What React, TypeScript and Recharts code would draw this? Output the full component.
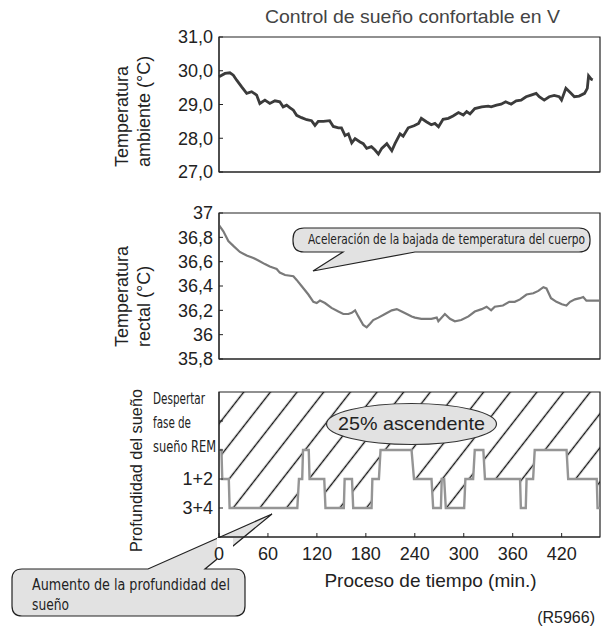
import { LineChart, ComposedChart, Line, Area, XAxis, YAxis, ReferenceArea } from 'recharts'

// ambient temperature (°C) over time (min)
const ambientTime = [
  0, 6.6, 12, 15.8, 19.5, 25, 30.5, 36, 41.5, 45, 50.6, 56, 61.7, 67, 70.7, 74.6, 78, 82, 85.6, 91,
  96.7, 102, 105.8, 109.4, 115, 122, 126, 131.6, 135, 139, 142.6, 146.3, 150, 155.5, 159, 162.8, 168,
  172, 175.7, 179.4, 185, 190.5, 194, 199.6, 203, 208.6, 215, 220, 223, 228.6, 234, 238, 242, 247,
  252.8, 258, 264, 269.3, 273, 276.7, 282, 289.6, 296.8, 300, 306, 311, 316, 322, 327.6, 333, 338.5,
  344, 349.6, 353, 358.5, 364, 369.5, 375, 377.6, 382.4, 388, 391.7, 397, 403, 406, 407.4, 410.3, 412,
]
const ambientTemp = [
  29.82, 29.92, 29.94, 29.87, 29.72, 29.52, 29.33, 29.38, 29.28, 29.03, 29.13, 29.03, 29.11, 29.08,
  28.93, 28.98, 28.91, 28.83, 28.68, 28.61, 28.55, 28.52, 28.38, 28.5, 28.5, 28.52, 28.35, 28.31,
  28.31, 28.08, 28.13, 27.86, 27.99, 27.89, 27.84, 27.7, 27.75, 27.65, 27.53, 27.7, 27.84, 27.63,
  27.84, 28.13, 28.06, 28.31, 28.37, 28.44, 28.59, 28.49, 28.4, 28.44, 28.34, 28.56, 28.59, 28.66,
  28.76, 28.69, 28.79, 28.72, 28.88, 28.93, 28.95, 28.93, 28.98, 29.01, 29.08, 29.01, 29.11, 29.13,
  29.23, 29.28, 29.33, 29.23, 29.13, 29.23, 29.27, 29.23, 29.13, 29.48, 29.33, 29.23, 29.25, 29.33,
  29.48, 29.85, 29.75, 29.73,
]
const ambientTicks = [27, 28, 29, 30, 31]
const ambientTickLabels = ['27,0', '28,0', '29,0', '30,0', '31,0']

// rectal temperature (°C) over time (min)
const rectalTime = [
  0, 4.8, 10.3, 15.8, 23, 30.5, 37.9, 43.4, 50.6, 56, 59.9, 63.6, 67, 72.8, 82, 85.6, 91, 98.5, 104,
  107.7, 111.3, 116.8, 124, 131.6, 137, 142.6, 146.3, 150, 153.6, 159, 162.8, 166.5, 170, 175.7, 183,
  190.5, 196, 201.4, 207, 212.4, 216, 223, 228.6, 234, 240, 241.8, 249, 254.6, 260, 267, 275, 282,
  289.6, 295, 300, 304, 313, 320, 326, 331.8, 339, 346.5, 352, 357.6, 361, 366, 372, 378, 383, 387,
  392.4, 397.8, 401.5, 405, 420,
]
const rectalTemp = [
  36.9, 36.85, 36.77, 36.73, 36.68, 36.65, 36.63, 36.61, 36.58, 36.56, 36.55, 36.54, 36.51, 36.49,
  36.48, 36.45, 36.4, 36.33, 36.27, 36.26, 36.28, 36.26, 36.22, 36.19, 36.17, 36.17, 36.18, 36.2,
  36.15, 36.08, 36.06, 36.09, 36.12, 36.14, 36.17, 36.2, 36.21, 36.19, 36.17, 36.15, 36.14, 36.13,
  36.13, 36.13, 36.14, 36.11, 36.17, 36.13, 36.11, 36.12, 36.15, 36.19, 36.21, 36.23, 36.2, 36.23,
  36.24, 36.27, 36.27, 36.29, 36.33, 36.34, 36.36, 36.39, 36.38, 36.3, 36.27, 36.25, 36.24, 36.27,
  36.29, 36.3, 36.31, 36.28, 36.28,
]
const rectalTicks = [35.8, 36, 36.2, 36.4, 36.6, 36.8, 37]
const rectalTickLabels = ['35,8', '36', '36,2', '36,4', '36,6', '36,8', '37']

// sleep depth: 1 = 3+4, 2 = 1+2, 3 = REM
const sleepTime = [
  0, 3, 4, 12, 13, 96, 98, 102, 103, 110, 111, 129, 130.5, 153, 154, 163, 164.5, 187, 188, 196, 198,
  236, 239, 260.5, 262.5, 272, 273, 276, 278, 300.5, 302, 311.5, 313.5, 324, 326, 369, 370, 376, 377,
  385, 387, 426, 428, 463, 464, 467,
]
const sleepStage = [
  3, 3, 2, 2, 1, 1, 2, 2, 3, 3, 2, 2, 1, 1, 2, 2, 1, 1, 2, 2, 3, 3, 2, 2, 1, 1, 2, 2, 1, 1, 2, 2, 3,
  3, 2, 2, 1, 1, 2, 2, 3, 3, 2, 2, 1, 1,
]
const sleepTicks = [1, 2, 3, 4]
const sleepTickLabels = [['3+4'], ['1+2'], ['Despertar', 'fase de', 'sueño REM'], []]
const sleepTop = 5
const sleepTimeMax = 467

const timeTicks = [0, 60, 120, 180, 240, 300, 360, 420]

const ambientData = ambientTime.map((t, i) => ({ t, temp: ambientTemp[i] }))
const rectalData = rectalTime.map((t, i) => ({ t, temp: rectalTemp[i] }))
const sleepData = sleepTime.map((t, i) => ({ t, stage: sleepStage[i], band: [sleepStage[i], sleepTop] }))

const FONT = '"Liberation Sans", Arial, Helvetica, sans-serif'
const NARROW = '"Liberation Sans Narrow", "Arial Narrow", "DejaVu Sans Condensed", "Liberation Sans", sans-serif'
const INK = '#222'
const tickText = { fontSize: 18, fill: INK, fontFamily: FONT }
const narrowWidths: Record<string, number> = { Despertar: 52, 'fase de': 38, 'sueño REM': 63 }

function SleepTick({ x, y, payload }: any) {
  const lines = sleepTickLabels[sleepTicks.indexOf(payload.value)] || []
  if (lines.length === 1) {
    return (
      <text x={x} y={y} dy="0.355em" textAnchor="end" {...tickText}>
        {lines[0]}
      </text>
    )
  }
  return (
    <g>
      {lines.map((l, i) => (
        <text
          key={l}
          x={x - 60}
          y={y + 2 - (lines.length - 1 - i) * 24}
          fontSize={15}
          fill={INK}
          fontFamily={NARROW}
          textLength={narrowWidths[l]}
          lengthAdjust="spacingAndGlyphs"
        >
          {l}
        </text>
      ))}
    </g>
  )
}

function TimeTick({ x, y, payload }: any) {
  return (
    <g>
      {payload.value === 0 && <rect x={x - 2} y={y - 9} width={16} height={25} fill="#fff" />}
      <text x={x} y={y} dy="0.71em" textAnchor="middle" {...tickText}>
        {payload.value}
      </text>
    </g>
  )
}

function calloutPath(x0: number, y0: number, x1: number, y1: number, r: number, tail: string) {
  return `M${x0 + r},${y0} ${tail} H${x1 - r} Q${x1},${y0} ${x1},${y0 + r} V${y1 - r} Q${x1},${y1} ${x1 - r},${y1} H${x0 + r} Q${x0},${y1} ${x0},${y1 - r} V${y0 + r} Q${x0},${y0} ${x0 + r},${y0} Z`
}

function calloutPathBottomTail(x0: number, y0: number, x1: number, y1: number, r: number, tail: string) {
  return `M${x0 + r},${y0} H${x1 - r} Q${x1},${y0} ${x1},${y0 + r} V${y1 - r} Q${x1},${y1} ${x1 - r},${y1} ${tail} H${x0 + r} Q${x0},${y1} ${x0},${y1 - r} V${y0 + r} Q${x0},${y0} ${x0 + r},${y0} Z`
}

export default function App() {
  const layer = { position: 'absolute' as const, left: 0, top: 0 }
  return (
    <div style={{ position: 'absolute', left: 0, top: 0, width: 612, height: 627, background: '#fff', fontFamily: FONT }}>
      {/* callout that sits under the sleep chart */}
      <svg width={612} height={627} style={layer}>
        <path
          d={calloutPath(12, 569, 245, 616, 10, 'H148 L272,514 L205,569')}
          fill="#e2e2e2"
          stroke={INK}
          strokeWidth={1.2}
        />
        <text x={32} y={590} fontSize={15} fill={INK} fontFamily={NARROW} textLength={198} lengthAdjust="spacingAndGlyphs">
          Aumento de la profundidad del
        </text>
        <text x={32} y={610} fontSize={15} fill={INK} fontFamily={NARROW} textLength={37} lengthAdjust="spacingAndGlyphs">
          sueño
        </text>
      </svg>

      <div style={layer}>
        <LineChart width={612} height={190} data={ambientData} margin={{ top: 37, right: 12, bottom: 17, left: 0 }}>
          <XAxis dataKey="t" type="number" domain={[0, 420]} ticks={timeTicks} interval={0} tick={false} tickSize={-4} height={1} stroke={INK} />
          <YAxis
            type="number"
            domain={[27, 31]}
            ticks={ambientTicks}
            interval={0}
            width={219}
            tickSize={-4}
            tickMargin={10}
            tick={tickText}
            tickFormatter={(v: number) => ambientTickLabels[ambientTicks.indexOf(v)]}
            stroke={INK}
          />
          <ReferenceArea x1={0} x2={420} y1={27} y2={31} fill="none" stroke={INK} strokeWidth={1.2} />
          <Line dataKey="temp" type="linear" stroke="#3b3b3b" strokeWidth={2.8} dot={false} isAnimationActive={false} />
        </LineChart>
      </div>

      <div style={{ ...layer, top: 190 }}>
        <LineChart width={612} height={190} data={rectalData} margin={{ top: 23, right: 12, bottom: 20, left: 0 }}>
          <XAxis dataKey="t" type="number" domain={[0, 420]} ticks={timeTicks} interval={0} tick={false} tickSize={-4} height={1} stroke={INK} />
          <YAxis
            type="number"
            domain={[35.8, 37]}
            ticks={rectalTicks}
            interval={0}
            width={219}
            tickSize={-4}
            tickMargin={10}
            tick={tickText}
            tickFormatter={(v: number) => rectalTickLabels[rectalTicks.indexOf(v)]}
            stroke={INK}
          />
          <ReferenceArea x1={0} x2={420} y1={35.8} y2={37} fill="none" stroke={INK} strokeWidth={1.2} />
          <Line dataKey="temp" type="linear" stroke="#7a7a7a" strokeWidth={2.2} dot={false} isAnimationActive={false} />
        </LineChart>
      </div>

      <div style={{ ...layer, top: 380 }}>
        <ComposedChart width={612} height={247} data={sleepData} margin={{ top: 12, right: 12, bottom: 60, left: 0 }}>
          <defs>
            <pattern id="hatch" patternUnits="userSpaceOnUse" width={21} height={21} patternTransform="rotate(38)">
              <line x1={10.5} y1={0} x2={10.5} y2={21} stroke="#111" strokeWidth={1.4} />
            </pattern>
          </defs>
          <XAxis
            dataKey="t"
            type="number"
            domain={[0, sleepTimeMax]}
            ticks={timeTicks}
            interval={0}
            tickSize={-4}
            tickMargin={14}
            tick={<TimeTick />}
            height={30}
            stroke={INK}
          />
          <YAxis
            type="number"
            domain={[0, sleepTop]}
            ticks={sleepTicks}
            interval={0}
            width={219}
            tickSize={-4}
            tickMargin={10}
            tick={<SleepTick />}
            stroke={INK}
          />
          <Area dataKey="band" type="linear" stroke="none" fill="url(#hatch)" fillOpacity={1} isAnimationActive={false} />
          <ReferenceArea x1={0} x2={sleepTimeMax} y1={0} y2={sleepTop} fill="none" stroke={INK} strokeWidth={1.2} />
          <Line dataKey="stage" type="linear" stroke="#959595" strokeWidth={2.4} dot={false} isAnimationActive={false} />
        </ComposedChart>
      </div>

      {/* titles and annotations */}
      <svg width={612} height={627} style={{ ...layer, pointerEvents: 'none' }}>
        <text x={412.5} y={23} textAnchor="middle" fontSize={18.5} fill="#444" textLength={295} lengthAdjust="spacingAndGlyphs">
          Control de sueño confortable en V
        </text>

        <g fontSize={18} fill={INK}>
          <text transform="translate(128,167) rotate(-90)">Temperatura</text>
          <text transform="translate(150,167) rotate(-90)">ambiente (°C)</text>
          <text transform="translate(128,347) rotate(-90)">Temperatura</text>
          <text transform="translate(150,347) rotate(-90)">rectal (°C)</text>
        </g>
        <text transform="translate(142,552) rotate(-90)" fontSize={17} fill={INK} textLength={163} lengthAdjust="spacingAndGlyphs">
          Profundidad del sueño
        </text>

        <path
          d={calloutPathBottomTail(293, 228, 590, 252, 11, 'H415 L313,271 L343,252')}
          fill="#e2e2e2"
          stroke={INK}
          strokeWidth={1.2}
        />
        <text x={308} y={244} fontSize={14} fill={INK} fontFamily={NARROW} textLength={277} lengthAdjust="spacingAndGlyphs">
          Aceleración de la bajada de temperatura del cuerpo
        </text>

        <ellipse cx={411.5} cy={424} rx={85} ry={20.5} fill="#e2e2e2" stroke="#333" strokeWidth={1.2} />
        <text x={411.5} y={430} textAnchor="middle" fontSize={19} fill={INK} textLength={147} lengthAdjust="spacingAndGlyphs">
          25% ascendente
        </text>

        <text x={430.5} y={587} textAnchor="middle" fontSize={19} fill={INK}>
          Proceso de tiempo (min.)
        </text>
        <text x={595} y={623} textAnchor="end" fontSize={16} fill={INK}>
          (R5966)
        </text>
      </svg>
    </div>
  )
}
